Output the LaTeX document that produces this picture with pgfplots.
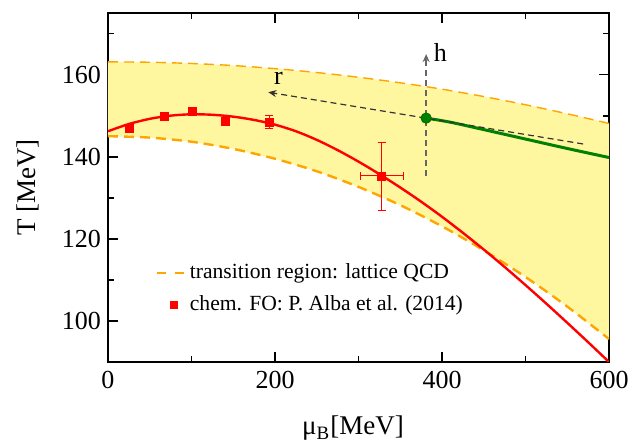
\documentclass[border=0pt]{standalone}
\usepackage{fontspec}
\setmainfont{Liberation Serif}
\usepackage{pgfplots}
\pgfplotsset{compat=1.18}
\usetikzlibrary{arrows.meta}
\definecolor{bandfill}{RGB}{255,246,160}
\definecolor{orangeL}{RGB}{255,165,0}
\definecolor{greenL}{RGB}{0,128,0}
\definecolor{darkgreenM}{RGB}{0,110,0}
\begin{document}
\begin{tikzpicture}
\path[use as bounding box] (-54pt,-40pt) rectangle (266.5pt,181pt);
\begin{axis}[
  at={(0,0)}, anchor=south west,
  scale only axis, width=250.5pt, height=174.5pt,
  xmin=0, xmax=600, ymin=90, ymax=175,
  xtick={0,200,400,600}, minor xtick={100,300,500},
  xticklabels={0,200,400,600},
  ytick={100,120,140,160}, minor ytick={110,130,150,170},
  yticklabels={100,120,140,160},
  tick align=inside, major tick length=5pt, minor tick length=3pt,
  axis line style={line width=0.9pt},
  every tick/.style={black, line width=0.9pt},
  tick label style={font=\rmfamily\fontsize{13}{15}\selectfont},
  xticklabel style={yshift=-1pt},
  xlabel={μ\textsubscript{B}[MeV]},
  ylabel={T [MeV]},
  label style={font=\fontsize{13.5}{15}\selectfont},
  xlabel style={at={(axis description cs:0.489,-0.19)}, anchor=center},
  ylabel style={at={(axis description cs:-0.16,0.5)}, anchor=center},
  legend style={at={(axis description cs:0.082,0.21)}, anchor=west,
    draw=none, fill=none, font=\fontsize{10.8}{12}\selectfont,
    row sep=3pt, cells={anchor=west}},
  legend cell align=left,
]
% band
\addplot[fill=bandfill, draw=none, forget plot] coordinates {
 (0,163.1) (50,163.0) (100,162.7) (150,162.2) (200,161.45) (250,160.5)
 (300,159.35) (350,158.0) (400,156.45) (450,154.65) (500,152.65) (550,150.45) (600,148.1)
 (600,95.6) (550,103.5) (500,110.7) (450,117.2) (400,123.05) (350,128.2)
 (300,132.65) (250,136.45) (200,139.5) (150,141.9) (100,143.65) (50,144.65) (0,145.0)
} -- cycle;
% upper dashed
\addplot[orangeL, line width=0.7pt, dash pattern=on 5pt off 3pt, smooth, forget plot] coordinates {
 (0,163.1) (50,163.0) (100,162.7) (150,162.2) (200,161.45) (250,160.5)
 (300,159.35) (350,158.0) (400,156.45) (450,154.65) (500,152.65) (550,150.45) (600,148.1)
};
% lower dashed
\addplot[orangeL, line width=1.2pt, dash pattern=on 5pt off 3pt, smooth,
  legend image code/.code={\draw[orangeL, line width=1.2pt, dash pattern=on 4.5pt off 4.5pt] (0pt,0pt) -- (14pt,0pt);}] coordinates {
 (0,145.0) (50,144.65) (100,143.65) (150,141.9) (200,139.5) (250,136.45) (300,132.65)
 (350,128.2) (400,123.05) (450,117.2) (500,110.7) (550,103.5) (600,95.6)
};
\addlegendentry{transition region: lattice QCD}
% red fit curve
\addplot[red, line width=1.2pt, smooth, forget plot] coordinates {
 (0,146.2) (25,147.96) (50,149.22) (75,150.0) (100,150.33) (125,150.21) (150,149.75)
 (175,148.95) (200,147.8) (225,146.2) (250,144.1) (275,141.6) (300,138.8) (325,135.75)
 (350,132.5) (375,129.05) (400,125.37) (425,121.47) (450,117.39) (475,113.14)
 (500,108.73) (525,104.2) (550,99.55) (575,94.82) (600,90.0)
};
% data points
\addplot[only marks, mark=square*, mark size=2pt, red,
  legend image code/.code={\draw[red, fill=red] (7pt,-1.7pt) rectangle (10.4pt,1.7pt);},
  error bars/.cd, x dir=both, x explicit, y dir=both, y explicit,
  error bar style={red, line width=0.5pt}]
  table[x=x, y=y, x error=ex, y error=ey] {
x y ex ey
25.1 146.8 0 1.0
67.1 149.8 0 0
101 151.0 0 0
141 148.5 0 0
193 148.4 0 1.6
327.8 135.3 26 8.3
};
\addlegendentry{chem. FO: P. Alba et al. (2014)}
% green line
\addplot[greenL, line width=1.5pt, smooth, forget plot] coordinates {
 (381,149.4) (410,148.4) (450,146.6) (500,144.3) (550,142.0) (600,139.8)
};
% r arrow
\addplot[black!80, line width=0.6pt, dash pattern=on 3pt off 2pt, -{Stealth[length=4pt,width=3.5pt]}, forget plot] coordinates {
 (569,143.1) (192,155.7)
};
% h arrow
\addplot[black!60, line width=0.8pt, dash pattern=on 3pt off 2pt, -{Stealth[length=4pt,width=3.5pt]}, forget plot] coordinates {
 (381,135.2) (381,165.0)
};
% green point
\addplot[only marks, mark=*, mark size=2.6pt, draw=darkgreenM, fill=greenL, forget plot] coordinates {(381,149.4)};
\node[font=\fontsize{13}{15}\selectfont] at (axis cs:204,159.0) {r};
\node[font=\fontsize{13}{15}\selectfont] at (axis cs:398,165.5) {h};
\end{axis}
\end{tikzpicture}
\end{document}
